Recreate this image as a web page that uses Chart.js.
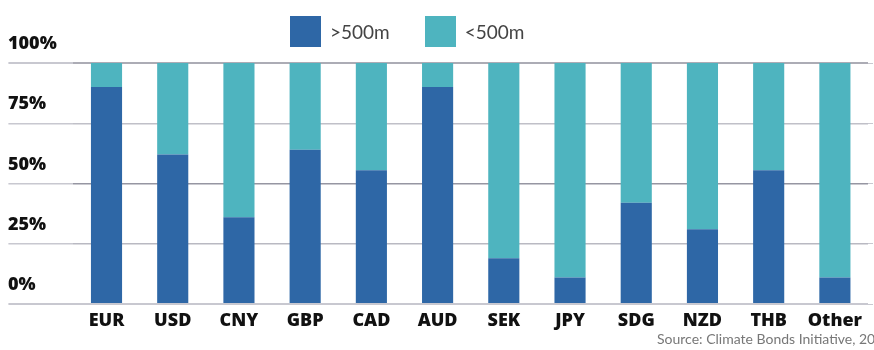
<!DOCTYPE html>
<html>
<head>
<meta charset="utf-8">
<script src="https://cdn.jsdelivr.net/npm/chart.js@4"></script>
<style>
    body { margin: 0; background: #fff; }
    #wrap { position: relative; width: 874px; height: 350px; overflow: hidden; }
    #legend { position: absolute; left: 290px; top: 16px; height: 31px; display: flex; align-items: center;
        font-family: Lato, sans-serif; font-size: 19px; color: #444; }
    #legend .item { display: flex; align-items: center; margin-right: 35px; }
    #legend .box { width: 31px; height: 31px; margin-right: 9px; }
    #source { position: absolute; left: 657px; top: 330px; white-space: nowrap;
        font-family: Lato, sans-serif; font-size: 14px; color: #777; }
</style>
</head>
<body>
<div id="wrap">
    <canvas id="chart" width="874" height="350"></canvas>
    <div id="legend"></div>
    <div id="source">Source: Climate Bonds Initiative, 2021</div>
</div>
<script>
const currencies = ["EUR", "USD", "CNY", "GBP", "CAD", "AUD", "SEK", "JPY", "SDG", "NZD", "THB", "Other"];
const seriesNames = [">500m", "<500m"];
const seriesColors = ["#2E67A6", "#4EB4BF"];
const over500 = [90, 62, 36, 64, 55.5, 90, 19, 11, 42, 31, 55.5, 11];
const under500 = [10, 38, 64, 36, 44.5, 10, 81, 89, 58, 69, 44.5, 89];
const yTicks = [0, 25, 50, 75, 100];

const gridColors = ["#c8c8d0", "#b9b9c2", "#9696a2", "#c0c0c8", "#acacb5"];

// legend above the plot
const legend = document.getElementById("legend");
seriesNames.forEach((name, i) => {
    const item = document.createElement("div");
    item.className = "item";
    item.innerHTML = '<div class="box" style="background:' + seriesColors[i] + '"></div><span>' + name + '</span>';
    legend.appendChild(item);
});

const labelFont = { family: "'Open Sans', sans-serif", size: 18, weight: 800 };

new Chart(document.getElementById("chart"), {
    type: "bar",
    data: {
        labels: currencies,
        datasets: [
            { label: seriesNames[0], data: over500, backgroundColor: seriesColors[0] },
            { label: seriesNames[1], data: under500, backgroundColor: seriesColors[1] }
        ]
    },
    options: {
        responsive: false,
        animation: false,
        layout: { padding: { left: 8, right: 1, top: 63, bottom: 0 } },
        datasets: { bar: { categoryPercentage: 1, barPercentage: 0.47 } },
        plugins: { legend: { display: false }, tooltip: { enabled: false } },
        scales: {
            x: {
                stacked: true,
                grid: { display: false },
                border: { display: false },
                ticks: { color: "#111", font: labelFont, padding: -2 },
                afterFit: s => { s.height = 46; }
            },
            y: {
                stacked: true,
                min: 0,
                max: 100,
                afterBuildTicks: s => { s.ticks = yTicks.map(v => ({ value: v })); },
                grid: {
                    color: ctx => gridColors[ctx.index],
                    lineWidth: ctx => (ctx.index === 0 || ctx.index === 4) ? 2 : 1.5,
                    tickColor: "#c8c8d0",
                    tickLength: 65
                },
                border: { display: false },
                ticks: {
                    color: "#111",
                    font: labelFont,
                    padding: 0,
                    crossAlign: "far",
                    labelOffset: -19,
                    callback: v => v + "%"
                },
                afterFit: s => { s.width = 65.4; }
            },
            y2: {
                position: "right",
                min: 0,
                max: 100,
                afterBuildTicks: s => { s.ticks = yTicks.map(v => ({ value: v })); },
                grid: {
                    drawOnChartArea: false,
                    color: ctx => gridColors[ctx.index],
                    tickColor: "#c8c8d0",
                    tickLength: 5
                },
                border: { display: false },
                ticks: { display: false },
                afterFit: s => { s.width = 5; }
            }
        }
    }
});
</script>
</body>
</html>
